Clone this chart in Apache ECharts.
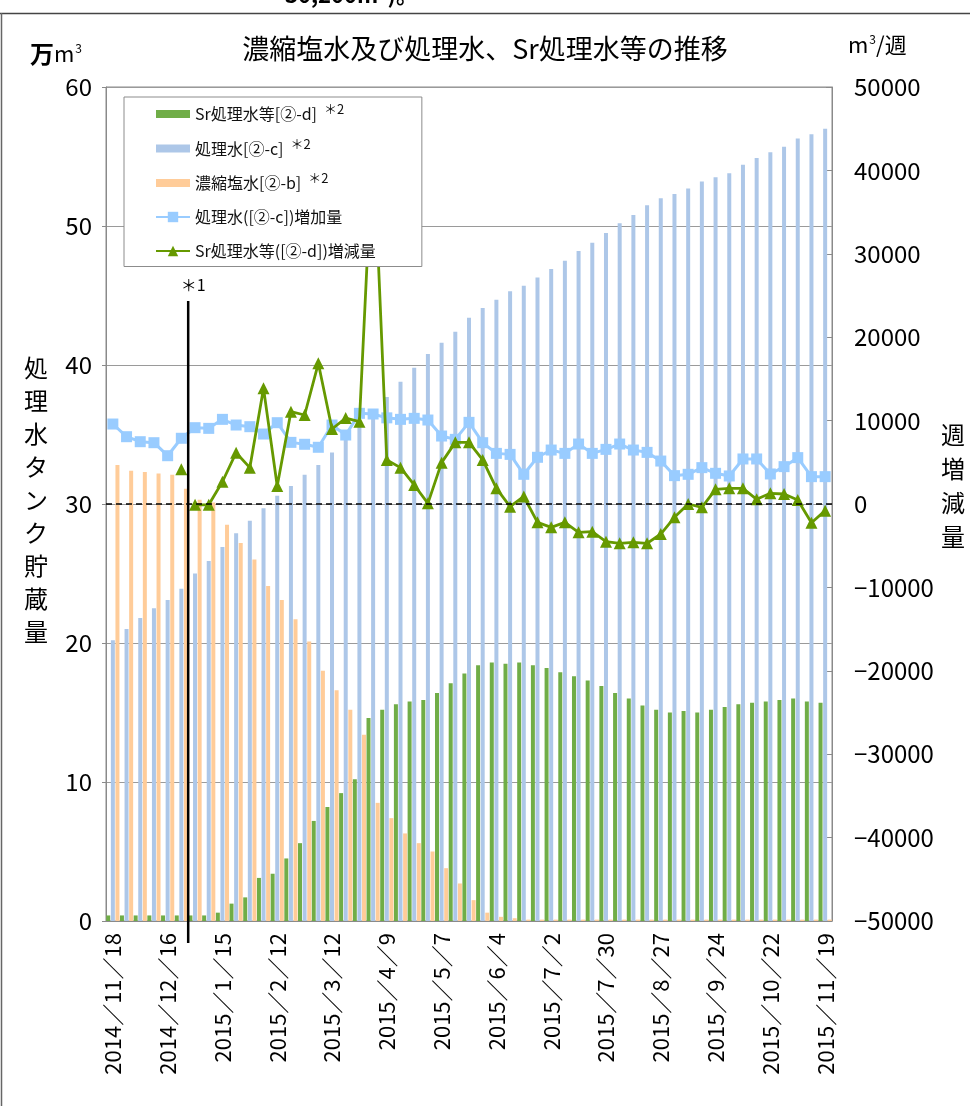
<!DOCTYPE html>
<html>
<head>
<meta charset="utf-8">
<script src="https://cdn.jsdelivr.net/npm/echarts@6/dist/echarts.min.js"></script>
<style>
  html, body { margin: 0; padding: 0; background: #fff; }
  #chart { width: 970px; height: 1106px; }
</style>
</head>
<body>
<div id="chart"></div>
<script>
// Weekly reporting dates
const dates = [
  '2014/11/18', '2014/11/25', '2014/12/2', '2014/12/9', '2014/12/16', '2014/12/24', '2014/12/31', '2015/1/8',
  '2015/1/15', '2015/1/22', '2015/1/29', '2015/2/5', '2015/2/12', '2015/2/19', '2015/2/26', '2015/3/5',
  '2015/3/12', '2015/3/19', '2015/3/26', '2015/4/2', '2015/4/9', '2015/4/16', '2015/4/23', '2015/4/30',
  '2015/5/7', '2015/5/14', '2015/5/21', '2015/5/28', '2015/6/4', '2015/6/11', '2015/6/18', '2015/6/25',
  '2015/7/2', '2015/7/9', '2015/7/16', '2015/7/23', '2015/7/30', '2015/8/6', '2015/8/13', '2015/8/20',
  '2015/8/27', '2015/9/3', '2015/9/10', '2015/9/17', '2015/9/24', '2015/10/1', '2015/10/8', '2015/10/15',
  '2015/10/22', '2015/10/29', '2015/11/5', '2015/11/12', '2015/11/19'
];

// Tank storage, 万m3 (left axis)
const srStock = [
  0.4, 0.4, 0.4, 0.4, 0.4, 0.4, 0.4, 0.4, 0.6, 1.25, 1.7, 3.1, 3.4, 4.5, 5.6, 7.2,
  8.2, 9.2, 10.2, 14.6, 15.2, 15.6, 15.8, 15.9, 16.4, 17.1, 17.8, 18.4, 18.6, 18.5, 18.6, 18.4,
  18.2, 17.9, 17.6, 17.3, 16.9, 16.4, 16.0, 15.5, 15.2, 15.0, 15.1, 15.0, 15.2, 15.4, 15.6, 15.7,
  15.8, 15.9, 16.0, 15.8, 15.7
];
const treatedStock = [
  20.2, 21.0, 21.8, 22.5, 23.1, 23.9, 25.0, 25.9, 26.9, 27.9, 28.8, 29.7, 30.6, 31.3, 32.1, 32.8,
  33.7, 34.7, 35.7, 36.7, 37.7, 38.8, 39.8, 40.8, 41.6, 42.4, 43.4, 44.1, 44.7, 45.3, 45.7, 46.3,
  46.9, 47.5, 48.2, 48.8, 49.5, 50.2, 50.8, 51.5, 52.0, 52.3, 52.7, 53.2, 53.5, 53.8, 54.4, 54.9,
  55.3, 55.7, 56.3, 56.6, 57.0
];
const brineStock = [
  32.8, 32.4, 32.3, 32.2, 32.1, 31.1, 30.3, 30.1, 28.5, 27.2, 26.0, 24.1, 23.1, 21.7, 20.1, 18.0,
  16.6, 15.2, 13.4, 8.5, 7.4, 6.3, 5.6, 5.0, 3.8, 2.7, 1.5, 0.6, 0.3, 0.2, 0.1, 0.1,
  0.1, 0.1, 0.1, 0.1, 0.1, 0.1, 0.1, 0.1, 0.1, 0.1, 0.1, 0.1, 0.1, 0.1, 0.1, 0.1,
  0.1, 0.1, 0.1, 0.1, 0.1
];

// Weekly change, m3/週 (right axis)
const treatedWeekly = [
  9590, 8070, 7470, 7350, 5790, 7880, 9150, 9070, 10150, 9470, 9270, 8390, 9750, 7390, 7160, 6800,
  9470, 8270, 10870, 10790, 10330, 10150, 10270, 10070, 8150, 7750, 9790, 7350, 6070, 5950, 3560, 5600,
  6470, 6070, 7190, 6070, 6550, 7190, 6470, 6190, 5150, 3400, 3560, 4360, 3680, 3360, 5400, 5400,
  3600, 4480, 5560, 3280, 3280
];
const srWeekly = [
  null, null, null, null, null, 4160, -100, -100, 2670, 6150, 4360, 13870, 2160, 11070, 10670, 16870,
  8990, 10300, 9870, 44000, 5280, 4360, 2280, 80, 4960, 7390, 7390, 5280, 1880, -320, 900, -2200,
  -2800, -2200, -3400, -3320, -4520, -4720, -4600, -4720, -3600, -1600, 0, -400, 1760, 1880, 1880, 560,
  1280, 1200, 480, -2240, -800
];

// Week index where the ＊1 boundary falls (line drawn between this week and the previous one)
const breakIndex = 6;

const names = {
  sr: 'Sr処理水等[②-d]',
  treated: '処理水[②-c]',
  brine: '濃縮塩水[②-b]',
  treatedInc: '処理水([②-c])増加量',
  srInc: 'Sr処理水等([②-d])増減量'
};
const footnoted = [names.sr, names.treated, names.brine];

const FONT = '"Noto Sans CJK JP", "Noto Sans", sans-serif';
const colors = {
  sr: '#70AD47',
  treated: '#ADC7E8',
  brine: '#FFCC99',
  treatedInc: '#99CCFF',
  srInc: '#669900'
};

const srAfter = srWeekly.map((v, i) => (i >= breakIndex ? v : null));
const srBefore = srWeekly.map((v, i) => (i < breakIndex ? v : null));

const minus = v => (v < 0 ? '\u2212' + Math.abs(v) : String(v));
const barRect = 'path://M0,0 L34,0 L34,8 L0,8 Z';

const chart = echarts.init(document.getElementById('chart'), null, { renderer: 'canvas' });

const option = {
  backgroundColor: '#fff',
  animation: false,
  textStyle: { fontFamily: FONT },
  title: {
    text: '濃縮塩水及び処理水、Sr処理水等の推移',
    left: 480,
    textAlign: 'center',
    top: 30,
    textStyle: { fontFamily: FONT, fontSize: 27, fontWeight: 'normal', color: '#000' }
  },
  legend: {
    orient: 'vertical',
    left: 124,
    top: 97,
    padding: [6, 46, 5, 31],
    itemGap: 13,
    itemWidth: 34,
    itemHeight: 13,
    backgroundColor: '#fff',
    borderColor: '#8c8c8c',
    borderWidth: 1,
    z: 10,
    selectedMode: false,
    data: [
      { name: names.sr, icon: barRect },
      { name: names.treated, icon: barRect },
      { name: names.brine, icon: barRect },
      { name: names.treatedInc },
      { name: names.srInc }
    ],
    formatter: n => (footnoted.includes(n) ? n + '{sup|＊2}' : n),
    textStyle: {
      fontFamily: FONT,
      fontSize: 16,
      lineHeight: 21,
      color: '#111',
      rich: {
        sup: { fontFamily: FONT, fontSize: 13, padding: [0, 0, 9, 7], color: '#111' }
      }
    }
  },
  grid: {
    left: 106,
    right: 138,
    top: 87,
    bottom: 185,
    show: true,
    borderColor: '#8a8a8a',
    borderWidth: 1
  },
  xAxis: {
    type: 'category',
    data: dates,
    boundaryGap: true,
    axisLine: { lineStyle: { color: '#8a8a8a', width: 1 } },
    axisTick: { show: false },
    axisLabel: {
      interval: 3,
      rotate: 90,
      margin: 12,
      fontFamily: FONT,
      fontSize: 22,
      color: '#000',
      formatter: v => v.replace(/\//g, '／')
    }
  },
  yAxis: [
    {
      type: 'value',
      min: 0,
      max: 60,
      interval: 10,
      position: 'left',
      axisLine: { show: true, lineStyle: { color: '#8a8a8a' } },
      axisTick: { show: true, length: 4, lineStyle: { color: '#8a8a8a' } },
      axisLabel: { fontFamily: FONT, fontSize: 24, color: '#000', margin: 14 },
      splitLine: { show: true, lineStyle: { color: '#9a9a9a', width: 1 } }
    },
    {
      type: 'value',
      min: -50000,
      max: 50000,
      interval: 10000,
      position: 'right',
      axisLine: { show: true, lineStyle: { color: '#8a8a8a' } },
      axisTick: { show: true, inside: true, length: 6, lineStyle: { color: '#8a8a8a' } },
      axisLabel: { fontFamily: FONT, fontSize: 24, color: '#000', margin: 22, formatter: minus },
      splitLine: { show: false }
    }
  ],
  series: [
    {
      name: names.sr,
      type: 'bar',
      yAxisIndex: 0,
      data: srStock,
      barWidth: 4,
      barGap: '15%',
      itemStyle: { color: colors.sr }
    },
    {
      name: names.treated,
      type: 'bar',
      yAxisIndex: 0,
      data: treatedStock,
      barWidth: 4,
      barGap: '15%',
      itemStyle: { color: colors.treated }
    },
    {
      name: names.brine,
      type: 'bar',
      yAxisIndex: 0,
      data: brineStock,
      barWidth: 4,
      barGap: '15%',
      itemStyle: { color: colors.brine }
    },
    {
      name: names.treatedInc,
      type: 'line',
      yAxisIndex: 1,
      data: treatedWeekly,
      symbol: 'rect',
      symbolSize: 11,
      showAllSymbol: true,
      lineStyle: { color: colors.treatedInc, width: 3 },
      itemStyle: { color: colors.treatedInc },
      markLine: {
        silent: true,
        symbol: 'none',
        label: { show: false },
        lineStyle: { color: '#000', type: [6, 4], width: 1.5 },
        data: [{ yAxis: 0 }]
      },
      z: 3
    },
    {
      name: names.srInc,
      type: 'line',
      yAxisIndex: 1,
      data: srAfter,
      symbol: 'triangle',
      symbolSize: 12,
      showAllSymbol: true,
      lineStyle: { color: colors.srInc, width: 2.8 },
      itemStyle: { color: colors.srInc },
      z: 4
    },
    {
      name: names.srInc,
      type: 'line',
      yAxisIndex: 1,
      data: srBefore,
      symbol: 'triangle',
      symbolSize: 12,
      showAllSymbol: true,
      lineStyle: { color: colors.srInc, width: 2.8 },
      itemStyle: { color: colors.srInc },
      z: 4
    }
  ]
};

chart.setOption(option);

// Annotations placed from the axes' own scales
const xPrev = chart.convertToPixel({ xAxisIndex: 0 }, breakIndex - 1);
const xNext = chart.convertToPixel({ xAxisIndex: 0 }, breakIndex);
const lineX = (xPrev + xNext) / 2;
const lineTop = chart.convertToPixel({ yAxisIndex: 0 }, 44.6);
const lineBottom = chart.convertToPixel({ yAxisIndex: 0 }, 0) + 22;

chart.setOption({
  graphic: [
    { type: 'line', id: 'frameTop', silent: true, z: 0,
      shape: { x1: 0, y1: 13.5, x2: 970, y2: 13.5 }, style: { stroke: '#444', lineWidth: 1.5 } },
    { type: 'line', id: 'frameLeft', silent: true, z: 0,
      shape: { x1: 1.5, y1: 13, x2: 1.5, y2: 1106 }, style: { stroke: '#666', lineWidth: 1.5 } },
    { type: 'text', id: 'prevText', silent: true, left: 285, top: -16,
      style: { text: '30,200m³)。', fontFamily: FONT, fontSize: 22, fontWeight: 'bold', fill: '#000' } },
    { type: 'text', id: 'leftUnit', silent: true, left: 30, top: 42,
      style: { text: '{a|万}{b|m}{c|3}', fontFamily: FONT,
        rich: {
          a: { fontFamily: FONT, fontSize: 24, fontWeight: 'bold', fill: '#000' },
          b: { fontFamily: FONT, fontSize: 22, fill: '#000' },
          c: { fontFamily: FONT, fontSize: 12, fill: '#000', padding: [0, 0, 12, 1] }
        } } },
    { type: 'text', id: 'rightUnit', silent: true, left: 848, top: 33,
      style: { text: '{b|m}{c|3}{b|/週}', fontFamily: FONT,
        rich: {
          b: { fontFamily: FONT, fontSize: 22, fill: '#000' },
          c: { fontFamily: FONT, fontSize: 12, fill: '#000', padding: [0, 0, 12, 1] }
        } } },
    { type: 'text', id: 'leftName', silent: true, x: 36, y: 500,
      style: { text: '処\n理\n水\nタ\nン\nク\n貯\n蔵\n量', fontFamily: FONT, fontSize: 24,
        lineHeight: 33, align: 'center', verticalAlign: 'middle', fill: '#000' } },
    { type: 'text', id: 'rightName', silent: true, x: 953, y: 486,
      style: { text: '週\n増\n減\n量', fontFamily: FONT, fontSize: 24,
        lineHeight: 34, align: 'center', verticalAlign: 'middle', fill: '#000' } },
    { type: 'line', id: 'breakLine', silent: true, z: 50,
      shape: { x1: lineX, y1: lineTop, x2: lineX, y2: lineBottom },
      style: { stroke: '#000', lineWidth: 2.5 } },
    { type: 'text', id: 'breakNote', silent: true, z: 50, x: lineX + 5, y: lineTop - 16,
      style: { text: '＊1', fontFamily: FONT, fontSize: 16, align: 'center', verticalAlign: 'middle', fill: '#000' } }
  ]
});
</script>
</body>
</html>
